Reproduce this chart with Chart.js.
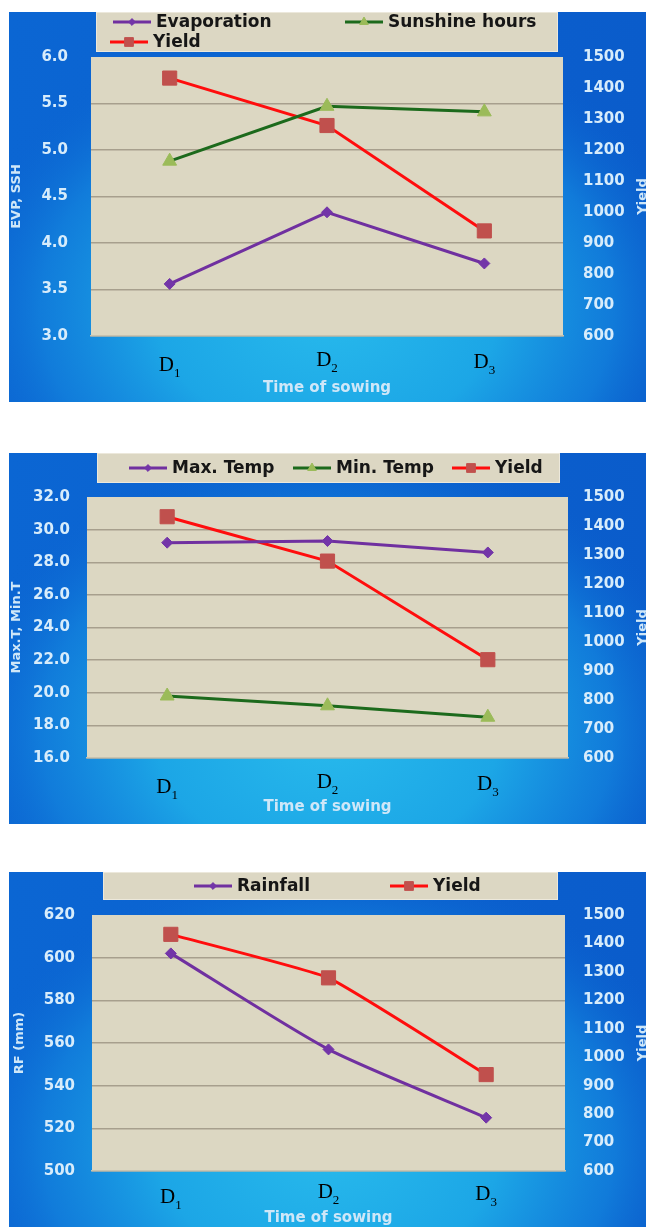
<!DOCTYPE html>
<html>
<head>
<meta charset="utf-8">
<script src="https://cdn.jsdelivr.net/npm/chart.js@4.4.1/dist/chart.umd.min.js"></script>
<style>
  html, body { margin: 0; padding: 0; background: #ffffff; width: 646px; height: 1227px; overflow: hidden; }
  .panel { position: absolute; left: 9px; }
  canvas { display: block; }
</style>
</head>
<body>
<div class="panel" style="top:12px"><canvas id="chartEvp" width="637" height="390"></canvas></div>
<div class="panel" style="top:453px"><canvas id="chartTemp" width="637" height="371"></canvas></div>
<div class="panel" style="top:872px"><canvas id="chartRain" width="637" height="355"></canvas></div>
<script>
// ---- data: time of sowing vs weather and grain yield ----
const sowingDates   = ['D1', 'D2', 'D3'];
const evaporation   = [3.56, 4.33, 3.78];
const sunshineHours = [4.88, 5.47, 5.41];
const maxTemp       = [29.2, 29.3, 28.6];
const minTemp       = [19.8, 19.2, 18.5];
const rainfall      = [602, 557, 525];
const grainYield    = [1432, 1279, 939];

// axis tick values
const evpTicks   = [3.0, 3.5, 4.0, 4.5, 5.0, 5.5, 6.0];
const tempTicks  = [16, 18, 20, 22, 24, 26, 28, 30, 32];
const rainTicks  = [500, 520, 540, 560, 580, 600, 620];
const yieldTicks = [600, 700, 800, 900, 1000, 1100, 1200, 1300, 1400, 1500];

// ---- look ----
const TICK_FONT  = { family: '"DejaVu Sans"', size: 15, weight: 'bold' };
const TITLE_FONT = { family: '"DejaVu Sans"', size: 13, weight: 'bold' };
const TICK_COLOR = '#d7ecfb';
const TITLE_COLOR = '#cfe7f8';
const PLOT_FILL = '#dcd7c2';
const GRID_COLOR = '#a79f8d';

const seriesLook = {
  purple: { borderColor: '#7030a0', pointStyle: 'rectRot', pointBackgroundColor: '#7335a8', pointBorderColor: '#7335a8', pointRadius: 5.5 },
  green:  { borderColor: '#1c6a1c', pointStyle: 'triangle', pointBackgroundColor: '#9bbb59', pointBorderColor: '#9bbb59', pointRadius: 8 },
  red:    { borderColor: '#ff0d0d', pointStyle: 'rect', pointBackgroundColor: '#c0504d', pointBorderColor: '#c0504d', pointRadius: 10 }
};

function series(label, data, look, axis, tension) {
  return Object.assign({
    label, data, yAxisID: axis,
    borderWidth: 3, pointBorderWidth: 1, pointHoverRadius: 0,
    tension: tension || 0, fill: false
  }, seriesLook[look]);
}

// blue backdrop and beige plot area
const backdrop = {
  id: 'backdrop',
  beforeDraw(chart) {
    const { ctx, width: w, height: h, chartArea: a } = chart;
    ctx.save();
    const base = ctx.createLinearGradient(0, 0, w, 0);
    base.addColorStop(0, '#0b66d3');
    base.addColorStop(1, '#0a5ccb');
    ctx.fillStyle = base;
    ctx.fillRect(0, 0, w, h);
    const cx = (a.left + a.right) / 2;
    const cy = a.bottom - (a.bottom - a.top) * 0.1;
    const sy = 0.75;
    ctx.translate(cx, cy);
    ctx.scale(1, sy);
    const R = w * 0.6;
    const g = ctx.createRadialGradient(0, 0, 0, 0, 0, R);
    g.addColorStop(0, 'rgba(40,186,236,1)');
    g.addColorStop(0.45, 'rgba(28,166,230,1)');
    g.addColorStop(0.75, 'rgba(18,128,220,0.85)');
    g.addColorStop(1, 'rgba(11,98,208,0)');
    ctx.fillStyle = g;
    ctx.fillRect(-cx, -cy / sy, w, h / sy);
    ctx.restore();
    ctx.save();
    ctx.fillStyle = PLOT_FILL;
    ctx.fillRect(a.left, a.top, a.right - a.left, a.bottom - a.top);
    ctx.restore();
  }
};

// legend in a beige box, items placed in columns
const boxedLegend = {
  id: 'boxedLegend',
  afterDraw(chart, args, opts) {
    const { ctx } = chart;
    const b = opts.box;
    ctx.save();
    ctx.fillStyle = '#dcd7c3';
    ctx.fillRect(b[0], b[1], b[2], b[3]);
    ctx.strokeStyle = 'rgba(240,236,225,0.8)';
    ctx.lineWidth = 1;
    ctx.strokeRect(b[0] + 0.5, b[1] + 0.5, b[2] - 1, b[3] - 1);
    chart.data.datasets.forEach((ds, i) => {
      const [x, y] = opts.slots[i];
      ctx.strokeStyle = ds.borderColor;
      ctx.lineWidth = 3;
      ctx.beginPath();
      ctx.moveTo(x, y);
      ctx.lineTo(x + 38, y);
      ctx.stroke();
      ctx.fillStyle = ds.pointBackgroundColor;
      ctx.strokeStyle = ds.pointBorderColor;
      ctx.lineWidth = 1;
      Chart.helpers.drawPoint(ctx, { pointStyle: ds.pointStyle, radius: ds.pointRadius * 0.62, rotation: 0, borderWidth: 1 }, x + 19, y);
      ctx.fillStyle = '#161616';
      ctx.font = 'bold 17px "DejaVu Sans"';
      ctx.textAlign = 'left';
      ctx.textBaseline = 'middle';
      ctx.fillText(ds.label, x + 43, y + 1);
    });
    ctx.restore();
  }
};

// category labels with subscript digits (D1 -> D with a lowered 1)
const subscriptDates = {
  id: 'subscriptDates',
  afterDraw(chart, args, opts) {
    const { ctx, chartArea: a } = chart;
    const xs = chart.scales.x;
    ctx.save();
    ctx.fillStyle = '#000000';
    ctx.textAlign = 'left';
    ctx.textBaseline = 'alphabetic';
    chart.data.labels.forEach((lab, i) => {
      const px = xs.getPixelForValue(i);
      const main = lab.slice(0, 1), sub = lab.slice(1);
      ctx.font = '21px "Liberation Serif"';
      const w1 = ctx.measureText(main).width;
      ctx.font = '13px "Liberation Serif"';
      const w2 = ctx.measureText(sub).width;
      const left = px - (w1 + w2) / 2;
      const base = a.bottom + opts.gap + (opts.nudge[i] || 0);
      ctx.font = '21px "Liberation Serif"';
      ctx.fillText(main, left, base);
      ctx.font = '13px "Liberation Serif"';
      ctx.fillText(sub, left + w1, base + 6);
    });
    ctx.restore();
  }
};

// right-hand axis title, reading upward
const rightTitle = {
  id: 'rightTitle',
  afterDraw(chart, args, opts) {
    const { ctx, chartArea: a, width: w } = chart;
    ctx.save();
    ctx.translate(w - 3, (a.top + a.bottom) / 2);
    ctx.rotate(-Math.PI / 2);
    ctx.fillStyle = TITLE_COLOR;
    ctx.font = 'bold 13px "DejaVu Sans"';
    ctx.textAlign = 'center';
    ctx.textBaseline = 'middle';
    ctx.fillText(opts.text, 0, 0);
    ctx.restore();
  }
};

function buildChart(canvasId, cfg) {
  const leftTicks = cfg.leftTicks;
  return new Chart(document.getElementById(canvasId), {
    type: 'line',
    data: { labels: sowingDates, datasets: cfg.datasets },
    plugins: [backdrop, boxedLegend, subscriptDates, rightTitle],
    options: {
      responsive: false,
      animation: false,
      events: [],
      layout: { padding: { top: cfg.top, left: 0, right: 0, bottom: 0 } },
      plugins: {
        legend: { display: false },
        tooltip: { enabled: false },
        boxedLegend: { box: cfg.legendBox, slots: cfg.legendSlots },
        subscriptDates: { gap: cfg.labelGap, nudge: [0, -5, -3] },
        rightTitle: { text: 'Yield' }
      },
      scales: {
        x: {
          offset: true,
          grid: { display: false, drawTicks: false },
          border: { display: true, color: '#c9c2ae', width: 1.5 },
          ticks: { display: false },
          title: { display: true, text: 'Time of sowing', color: TITLE_COLOR, font: { family: '"DejaVu Sans"', size: 15, weight: 'bold' }, padding: { top: 0, bottom: cfg.xTitlePad } },
          afterFit(s) { s.height = cfg.xHeight; }
        },
        y: {
          position: 'left',
          min: leftTicks[0],
          max: leftTicks[leftTicks.length - 1],
          grid: {
            drawTicks: false,
            lineWidth: 1.5,
            color: c => (c.index === leftTicks.length - 1 ? 'rgba(0,0,0,0)' : GRID_COLOR)
          },
          border: { display: false },
          ticks: {
            stepSize: leftTicks[1] - leftTicks[0],
            padding: cfg.leftPad,
            color: TICK_COLOR,
            font: TICK_FONT,
            callback: v => v.toFixed(cfg.decimals)
          },
          title: { display: true, text: cfg.leftTitle, color: TITLE_COLOR, font: TITLE_FONT, padding: { top: cfg.leftTitlePad, bottom: 0 } },
          afterFit(s) { s.width = cfg.leftWidth; }
        },
        y1: {
          position: 'right',
          min: yieldTicks[0],
          max: yieldTicks[yieldTicks.length - 1],
          grid: { display: false, drawTicks: false },
          border: { display: false },
          ticks: {
            stepSize: yieldTicks[1] - yieldTicks[0],
            padding: cfg.rightPad,
            color: TICK_COLOR,
            font: TICK_FONT,
            callback: v => String(v)
          },
          afterFit(s) { s.width = cfg.rightWidth; }
        }
      }
    }
  });
}

buildChart('chartEvp', {
  datasets: [
    series('Evaporation', evaporation, 'purple', 'y'),
    series('Sunshine hours', sunshineHours, 'green', 'y'),
    series('Yield', grainYield, 'red', 'y1')
  ],
  leftTicks: evpTicks, decimals: 1, leftTitle: 'EVP, SSH',
  top: 45, leftWidth: 82, rightWidth: 83, xHeight: 66,
  leftPad: 23, rightPad: 20, leftTitlePad: 0, xTitlePad: 5, labelGap: 35,
  legendBox: [87, 0, 462, 40],
  legendSlots: [[104, 10], [336, 10], [101, 30]]
});

buildChart('chartTemp', {
  datasets: [
    series('Max. Temp', maxTemp, 'purple', 'y'),
    series('Min. Temp', minTemp, 'green', 'y'),
    series('Yield', grainYield, 'red', 'y1')
  ],
  leftTicks: tempTicks, decimals: 1, leftTitle: 'Max.T, Min.T',
  top: 44, leftWidth: 78, rightWidth: 78, xHeight: 66,
  leftPad: 17, rightPad: 15, leftTitlePad: 0, xTitlePad: 8, labelGap: 35,
  legendBox: [88, 0, 463, 30],
  legendSlots: [[120, 15], [284, 15], [443, 15]]
});

buildChart('chartRain', {
  datasets: [
    series('Rainfall', rainfall, 'purple', 'y', 0.22),
    series('Yield', grainYield, 'red', 'y1', 0.12)
  ],
  leftTicks: rainTicks, decimals: 0, leftTitle: 'RF (mm)',
  top: 43, leftWidth: 83, rightWidth: 81, xHeight: 56,
  leftPad: 17, rightPad: 18, leftTitlePad: 3, xTitlePad: 0, labelGap: 32,
  legendBox: [94, 0, 455, 28],
  legendSlots: [[185, 14], [381, 14]]
});
</script>
</body>
</html>
